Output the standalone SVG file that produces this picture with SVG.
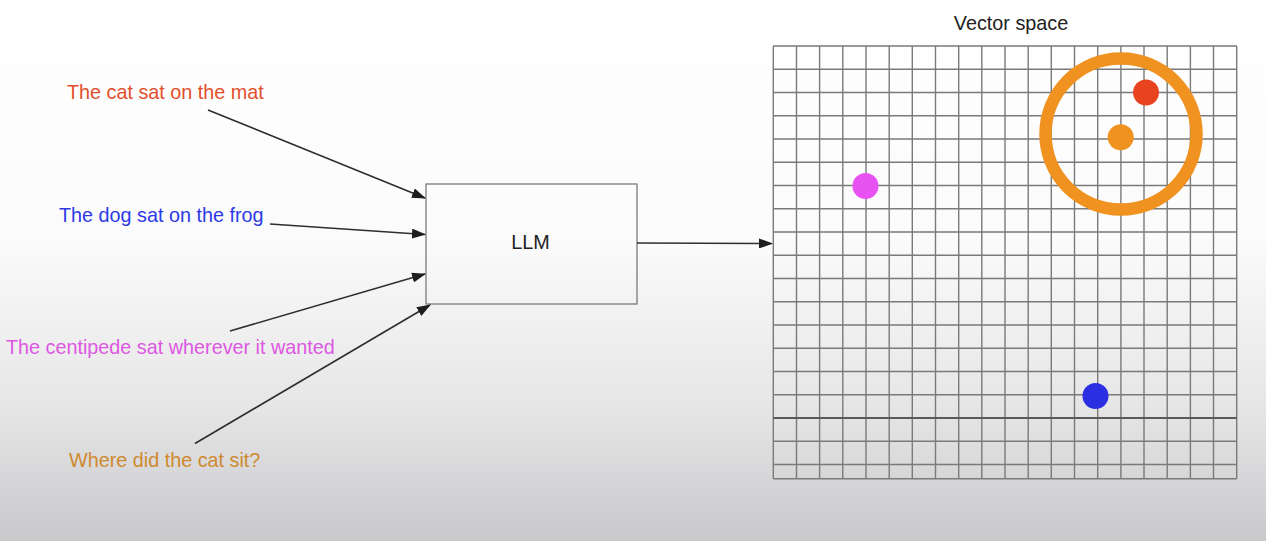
<svg xmlns="http://www.w3.org/2000/svg" width="1266" height="541" viewBox="0 0 1266 541">
<defs>
<linearGradient id="bg" x1="0" y1="0" x2="0" y2="1">
<stop offset="0" stop-color="#ffffff"/>
<stop offset="0.44" stop-color="#fbfbfb"/>
<stop offset="0.75" stop-color="#e6e6e7"/>
<stop offset="1" stop-color="#c9c8cb"/>
</linearGradient>
<marker id="ah" markerUnits="userSpaceOnUse" markerWidth="14" markerHeight="10" refX="13" refY="5" orient="auto">
<path d="M0,0 L14,5 L0,10 Z" fill="#1e1e1e"/>
</marker>
<style>
.lbl{font-family:"Liberation Sans",Arial,Helvetica,sans-serif;font-size:19.8px}
.conn{stroke:#2e2e2e;stroke-width:1.6;fill:none;marker-end:url(#ah)}
.grid{stroke:#7a7a7a;stroke-width:1.4;fill:none}
</style>
</defs>
<rect x="0" y="0" width="1266" height="541" fill="url(#bg)"/>

<g id="input-cat"><text class="lbl" x="67" y="99" fill="#e24e2b">The cat sat on the mat</text></g>
<g id="input-dog"><text class="lbl" x="59" y="222" fill="#2e39e6">The dog sat on the frog</text></g>
<g id="input-centipede"><text class="lbl" x="6" y="354" fill="#dd58e2">The centipede sat wherever it wanted</text></g>
<g id="input-question"><text class="lbl" x="69" y="467" fill="#cf8a2e">Where did the cat sit?</text></g>

<g id="llm">
<rect x="426" y="184" width="211" height="120" fill="none" stroke="#7a7a7a" stroke-width="1.3"/>
<text class="lbl" x="530.5" y="249" text-anchor="middle" fill="#222">LLM</text>
</g>

<g id="vector-space">
<text class="lbl" x="1011" y="30" text-anchor="middle" fill="#222">Vector space</text>
<path class="grid" d="M773.3,46V478.7M796.5,46V478.7M819.6,46V478.7M842.8,46V478.7M866,46V478.7M889.2,46V478.7M912.3,46V478.7M935.5,46V478.7M958.7,46V478.7M981.8,46V478.7M1005,46V478.7M1028.2,46V478.7M1051.3,46V478.7M1074.5,46V478.7M1097.7,46V478.7M1120.9,46V478.7M1144,46V478.7M1167.2,46V478.7M1190.4,46V478.7M1213.5,46V478.7M1236.7,46V478.7
M773.3,46H1236.7M773.3,69.25H1236.7M773.3,92.5H1236.7M773.3,115.75H1236.7M773.3,139H1236.7M773.3,162.25H1236.7M773.3,185.5H1236.7M773.3,208.75H1236.7M773.3,232H1236.7M773.3,255.25H1236.7M773.3,278.5H1236.7M773.3,301.75H1236.7M773.3,325H1236.7M773.3,348.25H1236.7M773.3,371.5H1236.7M773.3,394.75H1236.7M773.3,441.25H1236.7M773.3,464.5H1236.7M773.3,478.7H1236.7"/>
<path d="M773.3,418H1236.7" stroke="#5a5a5a" stroke-width="2.2"/>
</g>

<g id="point-centipede"><circle cx="865.5" cy="186" r="13" fill="#e952f2"/></g>
<g id="point-cat"><circle cx="1146" cy="92.5" r="13" fill="#e8431f"/></g>
<g id="point-question"><circle cx="1120.7" cy="137.3" r="13" fill="#f0921f"/></g>
<g id="cluster-ring"><circle cx="1121" cy="134" r="75.5" fill="none" stroke="#f0921f" stroke-width="12.5"/></g>
<g id="point-dog"><circle cx="1095.5" cy="396" r="13" fill="#2b2fe2"/></g>

<g id="connectors">
<line class="conn" x1="208" y1="110" x2="425" y2="198"/>
<line class="conn" x1="270" y1="224" x2="425" y2="234.5"/>
<line class="conn" x1="230" y1="331" x2="425" y2="274"/>
<line class="conn" x1="195" y1="443.5" x2="430" y2="305"/>
<line class="conn" x1="637" y1="243" x2="772" y2="243.5"/>
</g>
</svg>
